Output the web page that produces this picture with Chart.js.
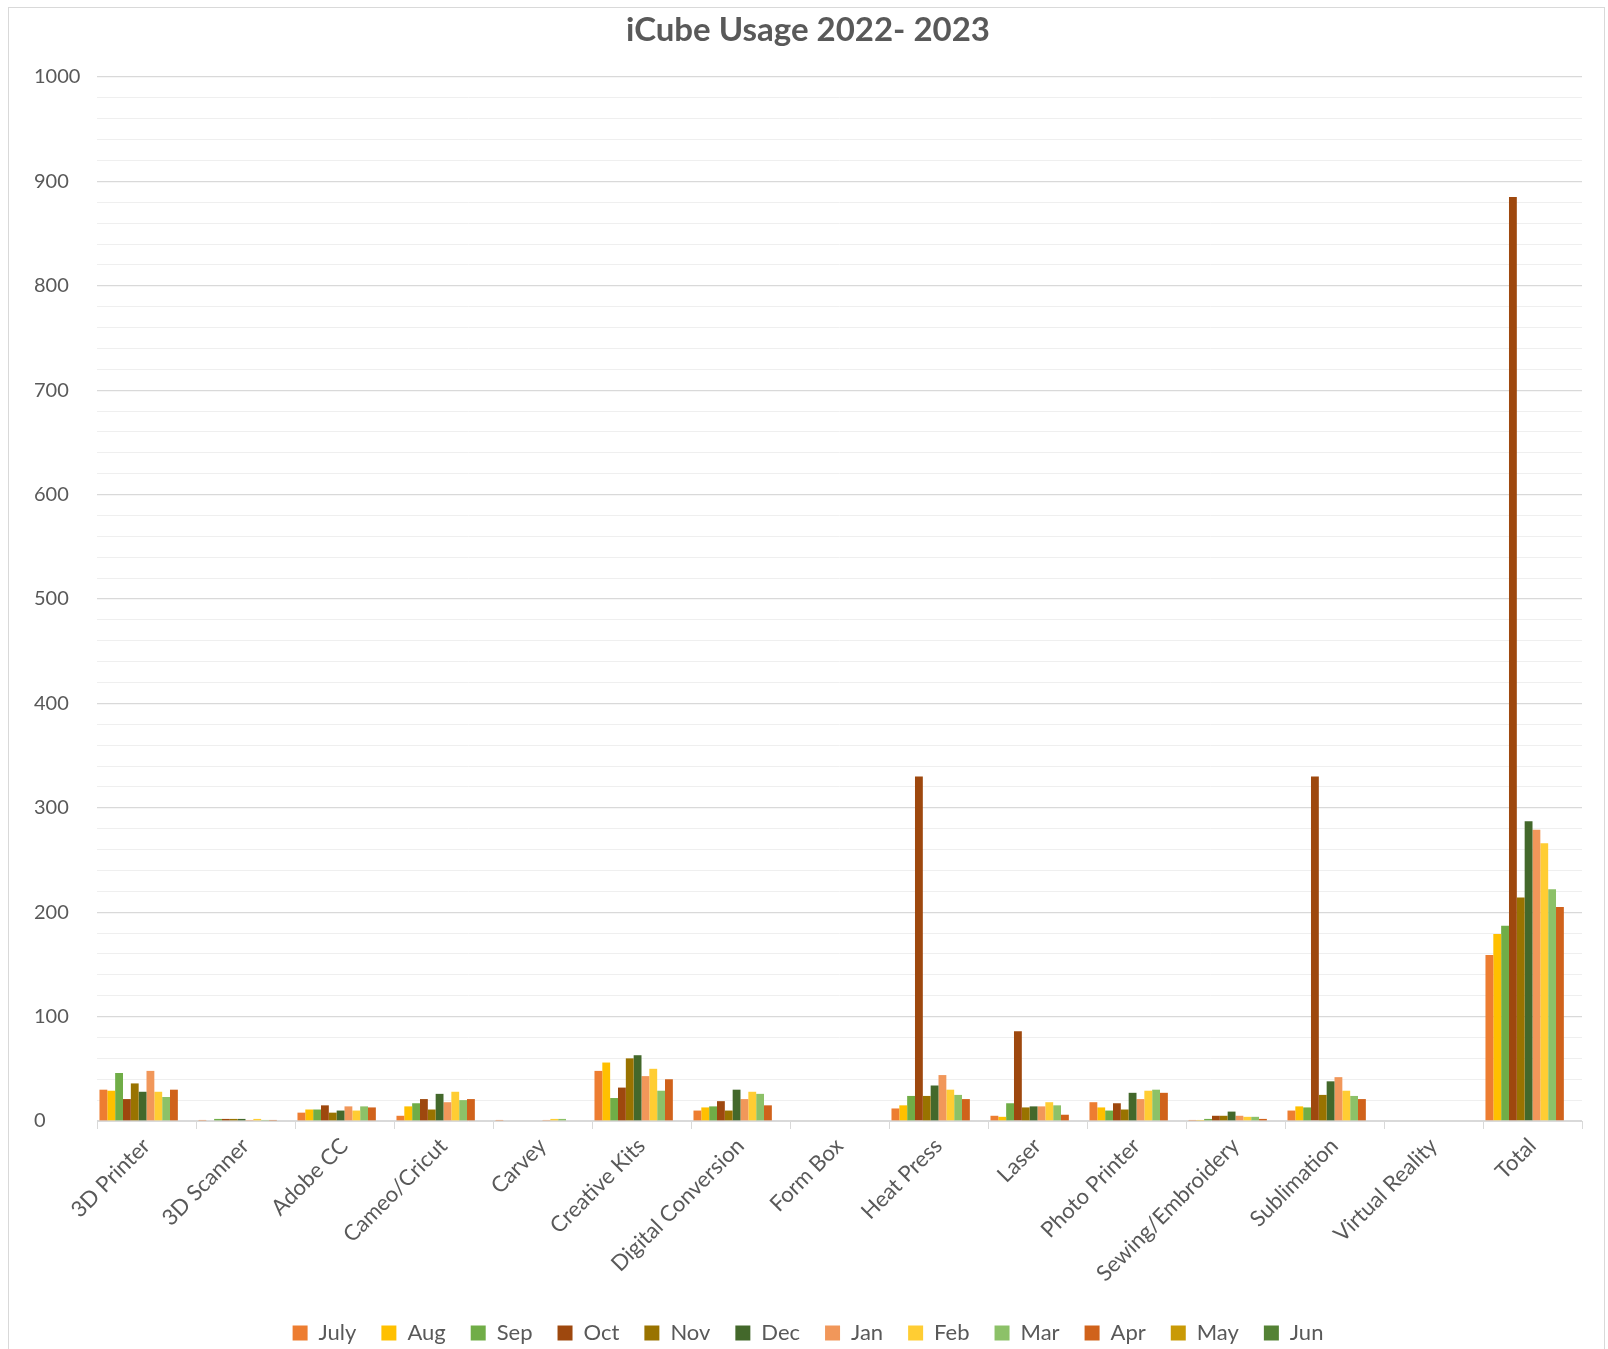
<!DOCTYPE html>
<html>
<head>
<meta charset="utf-8">
<script src="https://cdn.jsdelivr.net/npm/chart.js@4.4.1/dist/chart.umd.min.js"></script>
<style>
  html, body { margin: 0; padding: 0; background: #ffffff; }
  #wrap { position: relative; width: 1608px; height: 1349px; }
  canvas { display: block; }
</style>
</head>
<body>
<div id="wrap"><canvas id="c" width="1608" height="1349"></canvas></div>
<script>
// ---- data ----
const categories = ["3D Printer", "3D Scanner", "Adobe CC", "Cameo/Cricut", "Carvey", "Creative Kits",
  "Digital Conversion", "Form Box", "Heat Press", "Laser", "Photo Printer", "Sewing/Embroidery",
  "Sublimation", "Virtual Reality", "Total"];
const months = ["July", "Aug", "Sep", "Oct", "Nov", "Dec", "Jan", "Feb", "Mar", "Apr", "May", "Jun"];

const july = [30, 1, 8, 5, 1, 48, 10, null, 12, 5, 18, 1, 10, null, 159];
const aug  = [29, 0, 11, 14, 0, 56, 13, null, 15, 4, 13, 1, 14, null, 179];
const sep  = [46, 2, 11, 17, 0, 22, 14, null, 24, 17, 10, 2, 13, null, 187];
const oct  = [21, 2, 15, 21, 0, 32, 19, null, 330, 86, 17, 5, 330, null, 885];
const nov  = [36, 2, 8, 11, 0, 60, 10, null, 24, 13, 11, 5, 25, null, 214];
const dec  = [28, 2, 10, 26, 0, 63, 30, null, 34, 14, 27, 9, 38, null, 287];
const jan  = [48, 1, 14, 18, 1, 43, 21, null, 44, 14, 21, 5, 42, null, 279];
const feb  = [28, 2, 10, 28, 2, 50, 28, null, 30, 18, 29, 4, 29, null, 266];
const mar  = [23, 1, 14, 20, 2, 29, 26, null, 25, 15, 30, 4, 24, null, 222];
const apr  = [30, 1, 13, 21, 0, 40, 15, null, 21, 6, 27, 2, 21, null, 205];
const may  = [null, null, null, null, null, null, null, null, null, null, null, null, null, null, null];
const jun  = [null, null, null, null, null, null, null, null, null, null, null, null, null, null, null];

const yTicksMin = 0, yTicksMax = 1000, yMinorStep = 20, yMajorStep = 100;

// ---- styles ----
const seriesValues = [july, aug, sep, oct, nov, dec, jan, feb, mar, apr, may, jun];
const colors = ["#ED7D31", "#FFC000", "#70AD47", "#9E480E", "#997300", "#43682B",
  "#F1975A", "#FFCD33", "#8CC168", "#D0621B", "#C99A06", "#548235"];
const textColor = "#595959";
const fontFamily = "Lato, 'Open Sans', 'Liberation Sans', sans-serif";

const datasets = months.map((m, i) => ({
  label: m,
  data: seriesValues[i],
  backgroundColor: colors[i],
  borderWidth: 0,
  categoryPercentage: 0.95,
  barPercentage: 1.0
}));

const borderPlugin = {
  id: 'chartBorder',
  beforeDraw(chart) {
    const ctx = chart.ctx;
    ctx.save();
    ctx.fillStyle = '#ffffff';
    ctx.fillRect(0, 0, chart.width, chart.height);
    ctx.strokeStyle = '#D9D9D9';
    ctx.lineWidth = 1;
    ctx.strokeRect(8.5, 7.5, 1596, 1345);
    ctx.restore();
  }
};

new Chart(document.getElementById('c'), {
  type: 'bar',
  data: { labels: categories, datasets },
  plugins: [borderPlugin],
  options: {
    responsive: false,
    animation: false,
    devicePixelRatio: 1,
    layout: { padding: { left: 34, right: 26, top: 6, bottom: -5 } },
    plugins: {
      title: {
        display: true,
        text: 'iCube Usage 2022- 2023',
        color: textColor,
        font: { family: fontFamily, size: 33, weight: 'bold' },
        padding: { top: 5, bottom: 26.4 }
      },
      legend: {
        position: 'bottom',
        labels: {
          color: textColor,
          font: { family: fontFamily, size: 22 },
          boxWidth: 15,
          boxHeight: 15,
          padding: 25
        }
      },
      tooltip: { enabled: false }
    },
    scales: {
      x: {
        grid: {
          offset: true,
          drawOnChartArea: false,
          drawTicks: true,
          tickLength: 8,
          color: '#D9D9D9'
        },
        border: { display: true, color: '#D9D9D9', width: 1 },
        ticks: {
          color: textColor,
          font: { family: fontFamily, size: 22 },
          minRotation: 45,
          maxRotation: 45,
          autoSkip: false,
          padding: 4
        },
        afterFit(scale) { scale.height = 176; }
      },
      y: {
        min: yTicksMin,
        max: yTicksMax,
        border: { display: false },
        grid: {
          drawTicks: false,
          color: (c) => (c.tick && c.tick.value % yMajorStep === 0) ? '#D9D9D9' : '#EFEFEF',
          lineWidth: (c) => (c.tick && c.tick.value % yMajorStep === 0) ? 1.3 : 1
        },
        ticks: {
          stepSize: yMinorStep,
          autoSkip: false,
          color: textColor,
          font: { family: fontFamily, size: 20 },
          padding: 15,
          crossAlign: 'far',
          callback: (v) => (v % yMajorStep === 0 ? String(v) : '')
        },
        afterFit(scale) { scale.width = 63; }
      }
    }
  }
});
</script>
</body>
</html>
